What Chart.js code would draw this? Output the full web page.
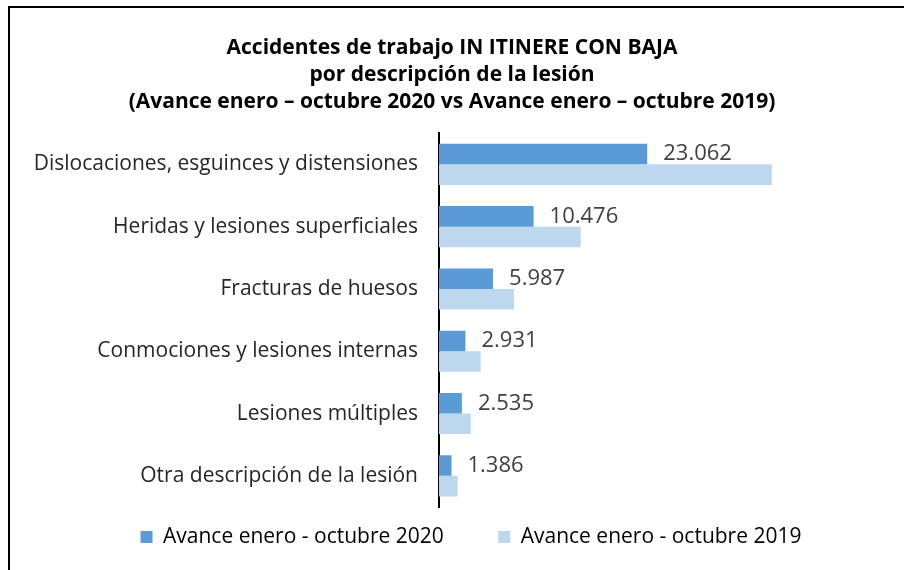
<!DOCTYPE html>
<html>
<head>
<meta charset="utf-8">
<script src="https://cdn.jsdelivr.net/npm/chart.js@4.4.1/dist/chart.umd.min.js"></script>
<style>
  html, body { margin: 0; padding: 0; background: #fff; }
  #wrap { position: relative; width: 904px; height: 570px; }
  #frame { position: absolute; left: 8px; top: 6px; right: 0; bottom: 0;
           border-left: 2px solid #000; border-top: 2px solid #000; pointer-events: none; }
  canvas { position: absolute; left: 0; top: 0; }
</style>
</head>
<body>
<div id="wrap">
  <canvas id="chart" width="904" height="570"></canvas>
  <div id="frame"></div>
</div>
<script>
// Categories and values
const categories = [
    'Dislocaciones, esguinces y distensiones',
    'Heridas y lesiones superficiales',
    'Fracturas de huesos',
    'Conmociones y lesiones internas',
    'Lesiones múltiples',
    'Otra descripción de la lesión'
];
const values2020 = [23062, 10476, 5987, 2931, 2535, 1386];
const values2019 = [36850, 15690, 8300, 4620, 3510, 2070];
const seriesNames = ['Avance enero - octubre 2020', 'Avance enero - octubre 2019'];

const FONT = '"Open Sans", Lato, sans-serif';

// Format numbers with dot as thousands separator
function fmt(n) {
    return String(n).replace(/\B(?=(\d{3})+(?!\d))/g, '.');
}

// Data labels for the 2020 series
const labelPlugin = {
    id: 'barLabels',
    afterLayout(chart) {
        // legend row sits a bit right of centre in the original
        chart.legend.left += 19;
        chart.legend.right += 19;
    },
    afterDatasetsDraw(chart) {
        const ctx = chart.ctx;
        const meta = chart.getDatasetMeta(0);
        ctx.save();
        ctx.font = '22px ' + FONT;
        ctx.fillStyle = '#404040';
        ctx.textAlign = 'left';
        ctx.textBaseline = 'middle';
        meta.data.forEach((bar, i) => {
            ctx.fillText(fmt(values2020[i]), bar.x + 16, bar.y);
        });
        ctx.restore();
    }
};

const ctx = document.getElementById('chart').getContext('2d');
new Chart(ctx, {
    type: 'bar',
    data: {
        labels: categories,
        datasets: [
            { label: seriesNames[0], data: values2020, backgroundColor: '#5B9BD5' },
            { label: seriesNames[1], data: values2019, backgroundColor: '#BDD7EE' }
        ]
    },
    options: {
        indexAxis: 'y',
        responsive: false,
        animation: false,
        datasets: { bar: { barPercentage: 1, categoryPercentage: 0.66 } },
        layout: { padding: { left: 9, right: 9, top: 34.5, bottom: 12.5 } },
        scales: {
            x: { display: false, min: 0, max: 50500 },
            y: {
                afterFit(scale) { scale.width = 430; },
                grid: { display: false },
                border: { display: true, color: '#000', width: 2 },
                ticks: { padding: 13, color: '#262626', font: { family: FONT, size: 21 } }
            }
        },
        plugins: {
            title: {
                display: true,
                text: ['Accidentes de trabajo IN ITINERE CON BAJA', 'por descripción de la lesión'],
                color: '#000',
                font: { family: FONT, size: 21, weight: 'bold', lineHeight: 1.286 },
                padding: { top: 0, bottom: 0 }
            },
            subtitle: {
                display: true,
                text: '(Avance enero – octubre 2020 vs Avance enero – octubre 2019)',
                color: '#000',
                font: { family: FONT, size: 21, weight: 'bold', lineHeight: 1.2 },
                padding: { top: 0.5, bottom: 19 }
            },
            legend: {
                position: 'bottom',
                labels: {
                    boxWidth: 12, boxHeight: 12, padding: 19.5,
                    color: '#000',
                    font: { family: FONT, size: 21 },
                    generateLabels(chart) {
                        const items = Chart.defaults.plugins.legend.labels.generateLabels(chart);
                        items[0].text += '\u2003\u2002\u2009';
                        return items;
                    }
                }
            },
            tooltip: { enabled: false }
        }
    },
    plugins: [labelPlugin]
});
</script>
</body>
</html>
